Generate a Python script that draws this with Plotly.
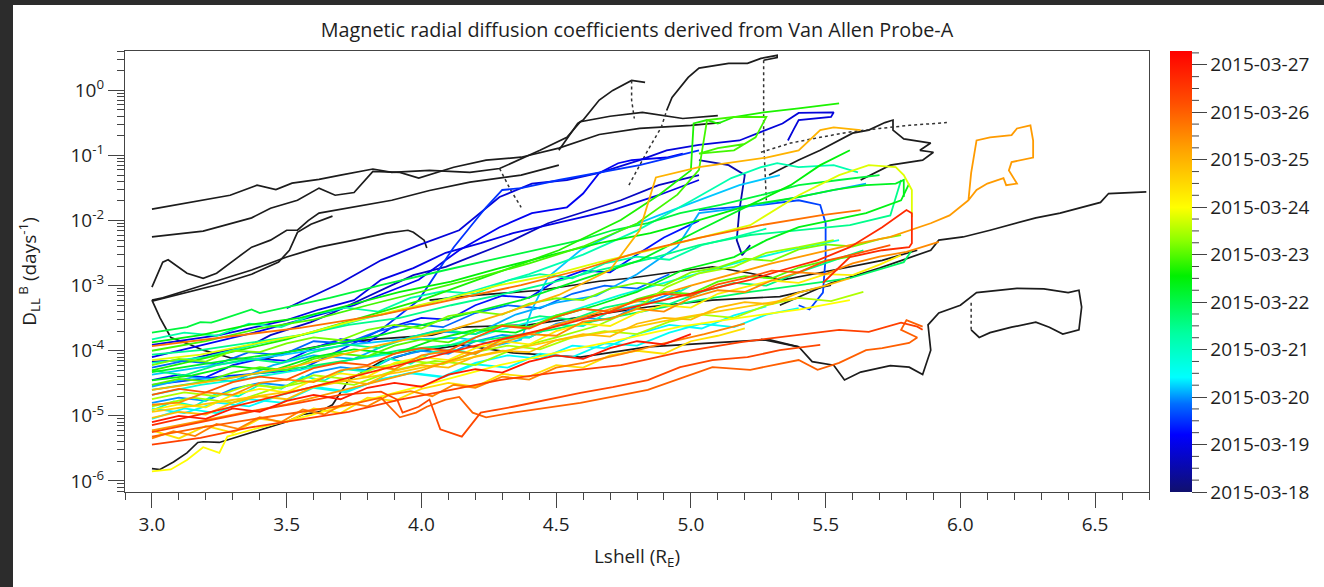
import plotly.graph_objects as go
from plotly.colors import sample_colorscale

TITLE = "Magnetic radial diffusion coefficients derived from Van Allen Probe-A"
X_TITLE = "Lshell (R<sub>E</sub>)"
Y_TITLE = "D<sub>LL</sub><sup> B</sup> (days<sup>-1</sup>)"

y_tick_vals = [1e-6, 1e-5, 1e-4, 1e-3, 1e-2, 1e-1, 1e0]
y_tick_text = ["10<sup>-6</sup>", "10<sup>-5</sup>", "10<sup>-4</sup>", "10<sup>-3</sup>",
               "10<sup>-2</sup>", "10<sup>-1</sup>", "10<sup>0</sup>"]
x_tick_vals = [3.0, 3.5, 4.0, 4.5, 5.0, 5.5, 6.0, 6.5]

# colorbar: days since 2015-03-18 00:00
cbar_tick_vals = [0, 1, 2, 3, 4, 5, 6, 7, 8, 9]
cbar_tick_text = ["2015-03-18", "2015-03-19", "2015-03-20", "2015-03-21", "2015-03-22",
                  "2015-03-23", "2015-03-24", "2015-03-25", "2015-03-26", "2015-03-27"]
T_MAX = 9.29

colorscale = [
    [0.0, "rgb(16,16,110)"], [0.13, "rgb(0,0,255)"], [0.20, "rgb(0,110,255)"],
    [0.26, "rgb(0,255,255)"], [0.36, "rgb(0,255,160)"], [0.49, "rgb(0,240,0)"],
    [0.57, "rgb(140,255,0)"], [0.645, "rgb(255,255,0)"], [0.78, "rgb(255,160,0)"],
    [0.88, "rgb(255,80,0)"], [1.0, "rgb(255,0,0)"],
]

# ---- black (flagged) passes, solid parts ----
black_lshell = [
    [3.00,3.13,3.29,3.39,3.46,3.52,3.62,3.70,3.82,3.89,4.03,4.18,4.29,4.44,4.54,4.59,4.70,4.82,4.97,5.10],
    [3.00,3.19,3.37,3.44,3.54,3.62,3.68,3.75,3.82,3.92,3.99,4.12,4.24,4.37,4.51,4.66,4.81,5.00,5.11],
    [3.00,3.04,3.06,3.13,3.19,3.24,3.32,3.37,3.44,3.50,3.54,3.58,3.62,3.75,3.89,4.03,4.18,4.37,4.51],
    [3.00,3.04,3.13,3.25,3.37,3.50,3.62,3.75,3.87,3.95,3.97,4.01,4.02],
    [3.00,3.13,3.25,3.37,3.47,3.51,3.54,3.59,3.67],
    [5.29,5.40,5.48,5.55,5.60,5.66,5.72,5.75,5.75,5.79,5.89,5.85,5.90,5.86,5.74,5.63],
    [4.51,4.58,4.60,4.66,4.71,4.76,4.78,4.83,4.78],
    [4.91,4.93,4.99,5.03,5.14,5.21,5.26,5.32,5.32,5.27],
    [3.00,3.03,3.08,3.13,3.17,3.19,3.25,3.32,3.37,3.44,3.50,3.56,3.62,3.67,3.70,3.73,3.85,3.97,4.15,4.34,4.59,4.84,5.08,5.29,5.40],
    [3.00,3.03,3.07,3.13,3.19,3.29,3.41,3.50,3.69,3.81,4.04,4.15,4.40,4.59,4.84,5.08,5.33,5.52],
    [4.03,4.22,4.44,4.66,4.77,4.90,5.08,5.22,5.34,5.47,5.59,5.71,5.84],
    [5.33,5.52,5.70,5.89,5.92,6.01,6.11,6.21,6.28,6.37,6.45,6.52,6.55,6.69],
    [5.26,5.40,5.45,5.53,5.57,5.63,5.74,5.81,5.86,5.89,5.88,5.92,6.00,6.06,6.21,6.31,6.40,6.44,6.45,6.44,6.38,6.33,6.28,6.19,6.11,6.07,6.04],
]
black_dll = [
    [1.5e-2,1.85e-2,2.45e-2,3.5e-2,3.0e-2,3.75e-2,4.3e-2,5.0e-2,6.2e-2,5.5e-2,5.9e-2,5.5e-2,6.3e-2,1.2e-1,1.9e-1,3.3e-1,4.0e-1,4.6e-1,3.7e-1,4.1e-1],
    [5.6e-3,6.9e-3,1.1e-2,1.55e-2,2.05e-2,3.15e-2,2.45e-2,2.7e-2,5.7e-2,5.5e-2,4.5e-2,6.6e-2,8.5e-2,9.4e-2,1.3e-1,2.1e-1,2.6e-1,2.9e-1,3.2e-1],
    [9.5e-4,2.3e-3,2.5e-3,1.55e-3,1.3e-3,1.55e-3,2.75e-3,3.9e-3,5.0e-3,7.1e-3,7.1e-3,1.0e-2,1.3e-2,1.6e-2,2.05e-2,2.9e-2,3.9e-2,5.0e-2,7.1e-2],
    [6.0e-4,6.5e-4,8.5e-4,1.23e-3,1.74e-3,2.75e-3,3.9e-3,5.0e-3,6.4e-3,7.1e-3,6.6e-3,5.0e-3,3.8e-3],
    [5.8e-4,8.0e-4,1.05e-3,1.5e-3,2.3e-3,3.5e-3,6.6e-3,8.8e-3,1.17e-2],
    [5.0e-2,8.5e-2,1.2e-1,1.7e-1,2.2e-1,2.45e-1,3.2e-1,3.5e-1,2.45e-1,1.8e-1,1.55e-1,1.2e-1,1.12e-1,8.5e-2,7.1e-2,4.2e-2],
    [1.2e-1,3.1e-1,3.5e-1,7.1e-1,1.0,1.28,1.42,1.33,1.42],
    [4.9e-1,7.8e-1,1.58,2.2,2.6,2.6,3.1,3.45,3.2,2.9],
    [1.55e-6,1.5e-6,1.95e-6,2.7e-6,3.9e-6,4.0e-6,3.9e-6,4.8e-6,5.6e-6,6.8e-6,8.1e-6,1.05e-5,1.15e-5,1.48e-5,2.25e-5,3.55e-5,6.8e-5,9.5e-5,1.23e-4,9.3e-5,8.0e-5,1.15e-4,1.32e-4,1.48e-4,1.15e-4],
    [6.0e-4,3.2e-4,1.6e-4,1.3e-4,1.02e-4,7.8e-5,7.2e-5,9.5e-5,1.32e-4,1.48e-4,1.74e-4,2.3e-4,2.5e-4,3.3e-4,4.7e-4,6.0e-4,6.8e-4,1.02e-3],
    [6.0e-4,7.2e-4,8.5e-4,1.17e-3,1.3e-3,1.55e-3,1.95e-3,1.55e-3,1.23e-3,1.55e-3,1.95e-3,2.45e-3,3.5e-3],
    [5.0e-4,1.1e-3,1.86e-3,3.5e-3,5.0e-3,5.6e-3,7.1e-3,9.1e-3,1.1e-2,1.3e-2,1.6e-2,1.9e-2,2.6e-2,2.75e-2],
    [1.5e-4,1.15e-4,6.8e-5,6.0e-5,3.55e-5,4.7e-5,5.9e-5,5.6e-5,4.3e-5,1.02e-4,2.5e-4,3.8e-4,5.0e-4,7.8e-4,9.1e-4,8.9e-4,7.8e-4,8.5e-4,4.7e-4,2.1e-4,1.8e-4,2.3e-4,2.75e-4,2.3e-4,1.9e-4,1.6e-4,2.1e-4],
]

# ---- black passes, sparse (dotted) parts ----
black_dot_lshell = [
    [5.26,5.37,5.48,5.59,5.70,5.81,5.95],
    [4.78,4.78,4.79],
    [4.77,4.84,4.89,4.91],
    [5.27,5.27,5.27,5.28],
    [6.04,6.04],
    [4.29,4.33,4.37],
]
black_dot_dll = [
    [1.12e-1,1.55e-1,1.9e-1,2.3e-1,2.6e-1,2.9e-1,3.2e-1],
    [1.42,7.1e-1,3.7e-1],
    [3.5e-2,1.2e-1,2.7e-1,4.9e-1],
    [2.9,1.28,1.7e-1,2.05e-2],
    [2.1e-4,6.0e-4],
    [6.3e-2,3.0e-2,1.6e-2],
]

# ---- colour-coded passes (time in days since 2015-03-18) ----
pass_times = [0.5, 0.7, 0.9, 1.0, 1.1, 1.3, 1.5, 1.6, 1.8, 2.0, 2.1, 2.2, 2.4, 2.5, 2.8, 3.0, 3.2,
              3.3, 3.5, 3.6, 3.8, 4.1, 4.3, 4.4, 4.5, 4.7, 4.9, 5.0, 5.2, 5.4, 5.5, 5.8, 6.0, 6.2,
              6.4, 6.7, 6.9, 7.0, 7.3, 7.5, 7.6, 7.8, 8.0, 8.1, 8.3, 8.4, 8.7, 8.9]
pass_lshell = [
    [5.03,5.14,5.20,5.18,5.17,5.19,5.22],
    [3.00,3.13,3.25,3.37,3.44,3.50,3.59,3.67,3.75,3.85,3.97,4.09,4.22,4.34,4.47,4.59,4.74,4.88,5.03],
    [3.50,3.70,3.85,3.99,4.14,4.29,4.41,4.54,4.66,4.81,4.91,5.03,5.18,5.34,5.40,5.53,5.52,5.40,5.38,5.36],
    [3.00,3.13,3.25,3.37,3.50,3.62,3.75,3.85,3.97,4.09,4.22,4.34,4.47,4.59,4.71,4.88,5.03],
    [3.00,3.40,3.75,3.99,4.14,4.29,4.41,4.54,4.60,4.66,4.73,4.78,4.91,4.97],
    [3.0,3.1,3.2,3.3,3.4,3.5,3.6,3.7,3.8,3.9,4.0,4.1,4.2,4.3,4.4,4.5,4.6,4.7,4.8,4.9,5.03],
    [3.00,3.25,3.55,3.70,3.85,3.99,4.12,4.18,4.24,4.30,4.37,4.51,4.66,4.81,5.03],
    [5.03,5.26,5.40,5.48,5.50,5.50,5.49,5.44,5.40],
    [3.00,3.12,3.24,3.36,3.48,3.60,3.72,3.84,3.96,4.08,4.20,4.32,4.44,4.56,4.68,4.80,4.92],
    [3.0,3.1,3.2,3.3,3.4,3.5,3.6,3.7,3.8,3.9,4.0,4.1,4.2,4.3,4.4,4.5,4.6,4.7,4.8,4.96],
    [3.00,3.15,3.30,3.45,3.60,3.75,3.90,4.05,4.20,4.35,4.50,4.65,4.80,4.95,5.03,5.15,5.27,5.40,5.52,5.65],
    [3.00,3.18,3.36,3.55,3.73,3.92,4.14,4.29,4.37,4.41,4.44,4.47,4.59,4.74,4.88,5.03,5.18,5.33],
    [3.00,3.12,3.24,3.36,3.48,3.60,3.72,3.84,3.96,4.08,4.20,4.32,4.44,4.56,4.68,4.80,4.92,5.04,5.16,5.28],
    [3.00,3.12,3.24,3.36,3.48,3.60,3.72,3.84,3.96,4.08,4.20,4.32,4.44,4.56,4.68,4.80,4.92,5.04,5.16,5.28,5.40],
    [3.00,3.18,3.36,3.55,3.73,3.92,4.11,4.29,4.51,4.74,4.96,5.18,5.40,5.55],
    [3.00,3.08,3.16,3.24,3.32,3.40,3.48,3.56,3.64,3.72,3.80,3.88,3.96,4.04,4.12,4.20,4.30,4.40,4.50,4.60,4.70,4.80,4.90,5.00],
    [3.00,3.20,3.40,3.60,3.80,4.00,4.20,4.40,4.60,4.80,5.00,5.15,5.26,5.32,5.40,5.53,5.62],
    [3.00,3.12,3.24,3.36,3.48,3.60,3.72,3.84,3.96,4.08,4.20,4.32,4.44,4.56,4.68,4.80,4.92,5.04,5.16,5.28],
    [3.00,3.18,3.36,3.55,3.73,3.92,4.11,4.29,4.48,4.66,4.85,5.03,5.22,5.40,5.59,5.74,5.78],
    [3.00,3.12,3.24,3.36,3.48,3.60,3.72,3.84,3.96,4.08,4.20,4.32,4.44,4.56,4.68,4.80,4.92,5.04,5.16,5.28,5.40,5.52,5.64],
    [3.00,3.18,3.36,3.55,3.73,3.92,4.11,4.29,4.48,4.66,4.85,5.03,5.22,5.40,5.59,5.79,5.82],
    [3.00,3.13,3.18,3.22,3.25,3.37,3.40,3.50,3.66,3.85,3.97,4.09,4.22,4.34,4.47,4.59,4.71,4.84,4.96,5.11,5.26,5.40,5.55,5.70],
    [3.00,3.25,3.55,3.85,4.11,4.37,4.59,4.81,5.03,5.22,5.40,5.53,5.65,5.76,5.79,5.79],
    [3.00,3.15,3.30,3.45,3.60,3.75,3.90,4.05,4.20,4.35,4.50,4.65,4.80,4.97,5.16,5.28,5.40,5.53,5.65,5.78,5.81],
    [3.00,3.18,3.36,3.55,3.73,3.92,4.11,4.29,4.48,4.66,4.85,5.03,5.22,5.37,5.48,5.59],
    [3.00,3.50,4.00,4.51,4.74,4.88,5.00,5.01,5.06,5.10,5.16,5.27,5.40,5.55],
    [3.00,3.20,3.40,3.60,3.80,4.00,4.20,4.40,4.60,4.80,4.95,5.03,5.06,5.16,5.28,5.24,5.16,5.03,5.10,5.20],
    [3.0,3.1,3.2,3.3,3.4,3.5,3.6,3.7,3.8,3.9,4.0,4.1,4.2,4.3,4.4,4.5,4.6,4.7,4.8,4.9,5.0,5.1,5.2,5.3,5.4,5.5,5.59],
    [3.0,3.1,3.2,3.3,3.4,3.5,3.6,3.7,3.8,3.9,4.0,4.1,4.2,4.3,4.4,4.5,4.6,4.7,4.8,4.9,5.0,5.1,5.2,5.3,5.4,5.5,5.6,5.7,5.78],
    [3.00,3.15,3.30,3.45,3.60,3.75,3.90,4.05,4.20,4.35,4.50,4.65,4.80,4.91,5.03,5.16,5.28,5.40,5.53],
    [3.00,3.12,3.24,3.36,3.48,3.60,3.72,3.84,3.96,4.08,4.20,4.32,4.44,4.56,4.68,4.80,4.92,5.04,5.16,5.28,5.40,5.52,5.64],
    [3.00,3.18,3.36,3.55,3.73,3.92,4.11,4.29,4.48,4.66,4.85,5.03,5.22,5.40,5.55,5.66,5.76,5.79,5.82,5.82],
    [3.00,3.07,3.13,3.19,3.25,3.28,3.40,3.55,3.73,3.92,4.11,4.29,4.51,4.74,4.96,5.18,5.40,5.59],
    [3.0,3.1,3.2,3.3,3.4,3.5,3.6,3.7,3.8,3.9,4.0,4.1,4.2,4.3,4.4,4.5,4.6,4.7,4.8,4.9,5.0,5.1,5.2,5.3,5.4,5.5,5.6,5.7,5.78],
    [3.0,3.1,3.2,3.3,3.4,3.5,3.6,3.7,3.8,3.9,4.0,4.1,4.2,4.3,4.4,4.5,4.6,4.7,4.8,4.9,5.0,5.1,5.2],
    [3.00,3.18,3.36,3.55,3.73,3.92,4.11,4.29,4.51,4.74,4.96,5.18,5.40],
    [3.0,3.1,3.2,3.3,3.4,3.5,3.6,3.7,3.8,3.9,4.0,4.1,4.2,4.3,4.4,4.5,4.6,4.7,4.8,4.9,5.0,5.1,5.2,5.3,5.4,5.5,5.59],
    [3.00,3.25,3.55,3.85,4.11,4.29,4.51,4.70,4.81,4.87,5.03,5.28,5.40,5.44,5.48,5.53,5.63],
    [3.00,3.50,4.00,4.50,5.00,5.30,5.59,5.74,5.89,5.96,6.03,6.04,6.06,6.11,6.19,6.21,6.26,6.27,6.27,6.19,6.18,6.21,6.17,6.16,6.10,6.06,6.03],
    [3.0,3.1,3.2,3.3,3.4,3.5,3.6,3.7,3.8,3.9,4.0,4.1,4.2,4.3,4.4,4.5,4.6,4.7,4.8,4.9,5.0,5.1,5.2,5.3,5.4,5.5,5.6,5.7,5.8,5.92],
    [3.00,3.08,3.16,3.24,3.32,3.40,3.48,3.56,3.64,3.72,3.80,3.88,3.96,4.04,4.12,4.20,4.30,4.40,4.50,4.60,4.75,4.90,5.05,5.20],
    [3.00,3.25,3.55,3.85,4.11,4.37,4.59,4.81,5.03,5.26,5.48,5.63],
    [3.00,3.18,3.36,3.55,3.73,3.85,3.92,3.98,4.02,4.09,4.14,4.19,4.24,4.34,4.59,4.84,5.08,5.22,5.34,5.40,5.47,5.55,5.65,5.71,5.81,5.84,5.78,5.80,5.86],
    [3.0,3.1,3.2,3.3,3.4,3.5,3.6,3.7,3.8,3.9,4.0,4.1,4.2,4.3,4.4,4.5,4.6,4.7,4.8,4.9,5.0,5.1,5.2,5.3,5.4,5.5,5.6,5.74],
    [3.00,3.13,3.25,3.40,3.55,3.70,3.85,3.91,3.93,3.99,4.03,4.07,4.15,4.22,4.34,4.47,4.59,4.71,4.84,4.96,5.08,5.21,5.33,5.48],
    [3.00,3.18,3.36,3.55,3.73,3.92,4.11,4.29,4.51,4.74,4.96,5.18,5.40,5.55,5.66,5.78,5.84,5.86],
    [3.00,3.18,3.36,3.55,3.73,3.92,4.11,4.29,4.48,4.66,4.85,5.03,5.22,5.34,5.47,5.59,5.71,5.80,5.82,5.82,5.81,5.71,5.59,5.54,5.49],
    [3.00,3.10,3.20,3.30,3.40,3.50,3.60,3.70,3.80,3.90,4.00,4.10,4.20,4.30,4.40,4.50,4.60,4.70,4.80,4.90,5.00],
]
pass_dll = [
    [8.5e-2,7.1e-2,5.0e-2,1.45e-2,5.0e-3,2.95e-3,4.2e-3],
    [6.8e-5,7.2e-5,9.5e-5,1.23e-4,1.74e-4,2.1e-4,2.75e-4,3.8e-4,5.4e-4,8.5e-4,1.45e-3,1.95e-3,3.2e-3,5.0e-3,9.1e-3,1.3e-2,2.05e-2,3.5e-2,5.0e-2],
    [4.5e-4,1.1e-3,2.45e-3,4.2e-3,7.1e-3,2.3e-2,3.7e-2,4.2e-2,5.4e-2,8.5e-2,1.2e-1,1.45e-1,1.7e-1,3.1e-1,4.5e-1,4.6e-1,3.9e-1,3.5e-1,2.45e-1,1.7e-1],
    [1.23e-4,1.48e-4,1.74e-4,2.25e-4,2.95e-4,4.3e-4,6.0e-4,1.23e-3,1.86e-3,3.2e-3,4.5e-3,6.4e-3,8.5e-3,1.12e-2,1.45e-2,2.45e-2,4.2e-2],
    [8.0e-5,2.0e-4,5.0e-4,1.23e-3,3.5e-3,7.9e-3,1.3e-2,1.6e-2,2.6e-2,5.4e-2,7.6e-2,8.5e-2,9.3e-2,1.07e-1],
    [3.55e-5,4.3e-5,3.9e-5,6.0e-5,7.5e-5,7.0e-5,1.1e-4,1.5e-4,1.35e-4,2.4e-4,3.2e-4,3.0e-4,5.0e-4,7.0e-4,6.5e-4,1.2e-3,1.7e-3,1.6e-3,3.0e-3,5.5e-3,1.0e-2],
    [3.0e-5,4.0e-5,5.1e-5,1.02e-4,2.1e-4,6.0e-4,3.9e-3,7.9e-3,1.6e-2,2.95e-2,3.15e-2,4.2e-2,5.5e-2,7.1e-2,1.2e-1],
    [1.45e-2,1.74e-2,2.05e-2,1.74e-2,9.1e-3,2.75e-3,7.8e-4,4.3e-4,5.0e-4],
    [5.5e-5,7.0e-5,6.2e-5,9.5e-5,8.5e-5,1.4e-4,1.3e-4,2.0e-4,2.6e-4,2.3e-4,3.8e-4,5.0e-4,4.5e-4,7.5e-4,1.0e-3,9.0e-4,1.5e-3],
    [1.58e-5,1.9e-5,1.7e-5,2.6e-5,3.2e-5,2.9e-5,4.6e-5,5.6e-5,5.0e-5,8.0e-5,1.0e-4,9.0e-5,1.4e-4,1.75e-4,1.6e-4,2.6e-4,3.2e-4,3.0e-4,4.8e-4,8.5e-4],
    [2.8e-5,3.9e-5,3.4e-5,6.0e-5,8.5e-5,7.5e-5,1.4e-4,2.0e-4,1.8e-4,3.6e-4,5.5e-4,7.0e-4,1.5e-3,4.0e-3,1.3e-2,1.5e-2,1.8e-2,2.3e-2,2.9e-2,3.7e-2],
    [4.3e-5,5.5e-5,7.2e-5,9.5e-5,1.23e-4,1.48e-4,1.58e-4,1.23e-4,1.48e-4,4.3e-4,7.8e-4,1.35e-3,3.5e-3,7.1e-3,1.2e-2,2.05e-2,3.5e-2,5.0e-2],
    [1.3e-5,1.1e-5,1.6e-5,1.4e-5,2.1e-5,2.8e-5,2.4e-5,3.5e-5,4.6e-5,4.0e-5,6.5e-5,8.5e-5,7.5e-5,1.2e-4,1.1e-4,1.8e-4,2.5e-4,2.2e-4,3.5e-4,4.8e-4],
    [9.0e-6,1.3e-5,1.1e-5,1.8e-5,1.6e-5,2.7e-5,2.3e-5,3.6e-5,4.5e-5,3.9e-5,6.2e-5,5.5e-5,9.0e-5,8.0e-5,1.3e-4,1.2e-4,1.9e-4,2.6e-4,2.3e-4,3.6e-4,4.5e-4],
    [2.1e-5,3.0e-5,3.8e-5,5.1e-5,7.2e-5,9.5e-5,1.23e-4,2.1e-4,3.55e-4,7.2e-4,1.3e-3,2.3e-3,3.8e-3,5.0e-3],
    [1.2e-5,1.66e-5,1.41e-5,2.2e-5,2.0e-5,3.0e-5,2.6e-5,4.0e-5,3.5e-5,5.2e-5,4.8e-5,7.6e-5,6.3e-5,9.5e-5,1.05e-4,8.9e-5,1.5e-4,1.6e-4,2.5e-4,2.4e-4,4.0e-4,5.0e-4,6.0e-4,1.0e-3],
    [6.5e-5,8.0e-5,1.3e-4,1.9e-4,3.2e-4,5.0e-4,8.5e-4,1.5e-3,3.0e-3,7.0e-3,2.0e-2,4.5e-2,6.6e-2,7.6e-2,6.6e-2,7.1e-2,5.5e-2],
    [1.5e-4,1.9e-4,1.7e-4,2.6e-4,2.3e-4,3.6e-4,4.6e-4,4.0e-4,6.5e-4,8.2e-4,7.5e-4,1.2e-3,1.5e-3,1.3e-3,2.2e-3,2.8e-3,2.5e-3,4.2e-3,5.5e-3,7.5e-3],
    [8.7e-5,1.02e-4,1.32e-4,1.74e-4,2.5e-4,3.2e-4,5.0e-4,7.2e-4,1.1e-3,1.74e-3,2.6e-3,4.2e-3,6.0e-3,7.1e-3,8.5e-3,1.2e-2,4.2e-2],
    [5.0e-5,4.2e-5,6.0e-5,7.5e-5,6.5e-5,9.5e-5,1.25e-4,1.1e-4,1.6e-4,2.1e-4,1.8e-4,2.6e-4,3.4e-4,3.0e-4,4.6e-4,5.8e-4,5.2e-4,8.0e-4,1.1e-3,1.0e-3,1.6e-3,2.4e-3,3.5e-3],
    [2.5e-5,3.3e-5,4.3e-5,5.5e-5,7.2e-5,1.02e-4,1.23e-4,1.58e-4,2.1e-4,2.95e-4,4.3e-4,6.0e-4,8.0e-4,1.02e-3,1.3e-3,2.3e-3,3.5e-3],
    [1.9e-4,2.3e-4,2.75e-4,2.7e-4,2.95e-4,4.3e-4,3.8e-4,4.7e-4,6.5e-4,1.02e-3,1.35e-3,1.74e-3,2.3e-3,2.95e-3,3.8e-3,5.0e-3,7.1e-3,9.1e-3,1.3e-2,1.74e-2,2.45e-2,3.5e-2,4.2e-2,5.0e-2],
    [4.7e-5,6.8e-5,1.02e-4,1.74e-4,3.2e-4,6.0e-4,1.23e-3,2.45e-3,7.1e-3,1.74e-2,2.3e-2,2.95e-2,3.5e-2,3.7e-2,4.2e-2,2.3e-2],
    [3.5e-5,4.2e-5,5.8e-5,5.0e-5,8.0e-5,1.05e-4,9.0e-5,1.5e-4,2.1e-4,1.9e-4,3.3e-4,5.0e-4,8.0e-4,1.74e-3,2.75e-3,5.0e-3,7.9e-3,1.02e-2,1.3e-2,2.05e-2,3.7e-2],
    [1.35e-4,1.74e-4,2.5e-4,3.2e-4,5.0e-4,8.0e-4,1.15e-3,1.86e-3,2.95e-3,4.5e-3,6.4e-3,1.02e-2,1.74e-2,3.5e-2,7.1e-2,1.2e-1],
    [5.0e-5,1.5e-4,6.0e-4,3.5e-3,1.02e-2,2.45e-2,5.9e-2,3.1e-1,3.5e-1,3.1e-1,3.9e-1,4.6e-1,5.3e-1,6.3e-1],
    [1.0e-4,1.4e-4,2.2e-4,3.0e-4,5.0e-4,8.0e-4,1.3e-3,2.2e-3,4.0e-3,9.0e-3,2.5e-2,6.0e-2,3.5e-1,3.9e-1,3.9e-1,1.9e-1,1.2e-1,1.07e-1,1.3e-1,1.5e-1],
    [3.0e-5,3.7e-5,3.4e-5,4.6e-5,5.6e-5,5.0e-5,7.5e-5,9.0e-5,8.2e-5,1.2e-4,1.5e-4,1.35e-4,2.0e-4,2.5e-4,2.3e-4,3.5e-4,4.4e-4,4.0e-4,6.2e-4,8.0e-4,7.5e-4,1.15e-3,1.4e-3,1.3e-3,1.9e-3,2.4e-3,2.8e-3],
    [6.0e-5,7.5e-5,6.8e-5,1.0e-4,9.5e-5,1.3e-4,1.6e-4,1.45e-4,2.1e-4,2.5e-4,2.2e-4,3.4e-4,4.0e-4,3.6e-4,5.3e-4,6.4e-4,6.0e-4,9.0e-4,1.1e-3,1.0e-3,1.6e-3,1.9e-3,2.6e-3,2.4e-3,3.6e-3,4.3e-3,4.0e-3,5.2e-3,6.0e-3],
    [1.4e-5,1.9e-5,1.6e-5,2.6e-5,3.5e-5,3.0e-5,5.0e-5,7.0e-5,6.0e-5,1.1e-4,1.6e-4,2.4e-4,4.5e-4,9.5e-4,1.55e-3,1.95e-3,3.2e-3,3.9e-3,5.0e-3],
    [1.8e-5,2.3e-5,2.0e-5,3.0e-5,2.7e-5,4.2e-5,3.7e-5,5.6e-5,7.0e-5,6.2e-5,9.5e-5,1.2e-4,1.05e-4,1.6e-4,2.0e-4,1.8e-4,2.8e-4,3.6e-4,3.2e-4,5.0e-4,6.5e-4,5.8e-4,8.0e-4],
    [7.2e-5,8.7e-5,1.23e-4,1.74e-4,2.75e-4,4.3e-4,6.5e-4,1.02e-3,1.45e-3,2.3e-3,3.5e-3,5.4e-3,8.5e-3,2.45e-2,5.0e-2,7.1e-2,6.6e-2,5.0e-2,2.95e-2,1.12e-2],
    [1.4e-6,1.5e-6,2.1e-6,3.3e-6,2.7e-6,4.8e-6,6.6e-6,9.3e-6,1.48e-5,2.35e-5,3.8e-5,6.0e-5,9.5e-5,1.48e-4,2.35e-4,3.2e-4,4.3e-4,6.0e-4],
    [1.23e-5,1.5e-5,1.35e-5,2.1e-5,2.6e-5,2.3e-5,3.6e-5,4.5e-5,4.0e-5,6.5e-5,8.0e-5,7.2e-5,1.1e-4,1.4e-4,1.25e-4,2.0e-4,2.6e-4,2.4e-4,3.8e-4,5.0e-4,4.6e-4,7.5e-4,9.5e-4,1.2e-3,1.1e-3,1.5e-3,1.45e-3,2.1e-3,2.95e-3],
    [6.0e-6,4.5e-6,7.0e-6,5.5e-6,9.0e-6,8.0e-6,1.3e-5,1.1e-5,1.9e-5,1.7e-5,2.6e-5,3.2e-5,2.8e-5,4.4e-5,4.0e-5,6.0e-5,5.5e-5,8.5e-5,1.0e-4,9.0e-5,1.4e-4,1.7e-4,2.2e-4],
    [1.15e-5,1.48e-5,1.9e-5,2.5e-5,3.55e-5,4.7e-5,6.8e-5,9.5e-5,1.48e-4,2.1e-4,3.2e-4,4.6e-4,6.5e-4],
    [9.3e-6,1.15e-5,1.05e-5,1.6e-5,2.0e-5,1.8e-5,2.8e-5,3.5e-5,3.1e-5,4.9e-5,6.0e-5,5.5e-5,8.2e-5,1.0e-4,9.5e-5,1.45e-4,1.8e-4,1.65e-4,2.6e-4,3.2e-4,3.0e-4,4.6e-4,5.6e-4,5.2e-4,7.8e-4,1.0e-3,1.3e-3],
    [2.5e-5,3.55e-5,6.0e-5,1.23e-4,2.1e-4,3.55e-4,7.2e-4,1.74e-3,7.1e-3,4.6e-2,6.6e-2,9.3e-2,1.2e-1,1.7e-1,2.45e-1,2.7e-1,2.45e-1],
    [6.0e-6,1.5e-5,5.0e-5,2.5e-4,1.0e-3,2.2e-3,4.2e-3,5.6e-3,9.1e-3,1.2e-2,2.05e-2,5.4e-2,1.7e-1,1.9e-1,2.05e-1,2.6e-1,2.9e-1,1.7e-1,9.3e-2,7.9e-2,5.9e-2,3.7e-2,3.5e-2,4.5e-2,3.7e-2,2.95e-2,2.05e-2],
    [1.48e-5,1.6e-5,2.3e-5,2.1e-5,3.2e-5,3.6e-5,3.3e-5,5.0e-5,5.8e-5,5.2e-5,8.5e-5,1.0e-4,9.0e-5,1.5e-4,1.8e-4,1.7e-4,2.8e-4,3.1e-4,4.4e-4,4.0e-4,6.5e-4,8.5e-4,8.0e-4,1.2e-3,1.6e-3,1.5e-3,2.2e-3,2.8e-3,3.3e-3,4.7e-3],
    [4.5e-6,5.8e-6,4.9e-6,7.5e-6,6.3e-6,9.5e-6,8.0e-6,1.25e-5,1.05e-5,1.6e-5,1.4e-5,2.1e-5,2.4e-5,2.0e-5,3.0e-5,2.7e-5,4.0e-5,3.6e-5,5.5e-5,6.5e-5,9.0e-5,1.3e-4,1.8e-4,2.6e-4],
    [1.18e-4,1.58e-4,2.25e-4,3.55e-4,6.0e-4,1.02e-3,1.74e-3,3.3e-3,5.4e-3,8.5e-3,1.2e-2,1.45e-2],
    [4.8e-6,6.6e-6,8.7e-6,1.15e-5,1.48e-5,1.9e-5,9.5e-6,1.12e-5,1.38e-5,1.78e-5,1.95e-5,1.12e-5,9.5e-6,1.12e-5,1.58e-5,2.5e-5,5.6e-5,5.1e-5,6.5e-5,7.2e-5,5.1e-5,6.5e-5,1.02e-4,1.1e-4,1.32e-4,1.6e-4,2.1e-4,2.95e-4,2.35e-4],
    [2.1e-5,2.6e-5,2.3e-5,3.3e-5,4.0e-5,3.6e-5,5.4e-5,6.6e-5,6.0e-5,9.0e-5,1.1e-4,1.0e-4,1.6e-4,2.4e-4,2.2e-4,3.3e-4,4.4e-4,4.0e-4,6.0e-4,7.5e-4,7.0e-4,1.05e-3,1.3e-3,1.7e-3,1.6e-3,2.4e-3,3.0e-3,4.2e-3],
    [5.6e-6,7.2e-6,9.3e-6,1.23e-5,1.6e-5,2.1e-5,2.35e-5,1.78e-5,1.12e-5,1.38e-5,1.78e-5,6.2e-6,4.8e-6,1.12e-5,1.38e-5,1.78e-5,2.25e-5,2.75e-5,3.55e-5,5.6e-5,7.2e-5,8.0e-5,1.02e-4,1.23e-4],
    [3.6e-6,4.6e-6,6.6e-6,8.7e-6,1.15e-5,1.78e-5,2.5e-5,3.55e-5,4.7e-5,6.0e-5,9.5e-5,1.35e-4,1.74e-4,2.1e-4,1.95e-4,2.7e-4,2.35e-4,2.1e-4],
    [7.2e-6,1.05e-5,1.58e-5,2.5e-5,3.8e-5,6.0e-5,9.5e-5,1.48e-4,2.25e-4,3.55e-4,5.4e-4,8.0e-4,1.23e-3,1.74e-3,2.45e-3,3.9e-3,7.9e-3,1.45e-2,1.3e-2,4.5e-3,3.9e-3,3.5e-3,2.75e-3,1.74e-3,1.1e-3],
    [8.0e-6,1.0e-5,9.0e-6,1.3e-5,1.15e-5,1.7e-5,2.1e-5,1.8e-5,2.7e-5,3.2e-5,2.8e-5,4.3e-5,5.2e-5,4.6e-5,6.8e-5,8.5e-5,7.5e-5,1.1e-4,1.4e-4,1.25e-4,1.8e-4],
]

FONT = "Open Sans"
FS = 19
TXT = "#1e1e1e"
FRAME = "#2c2c2c"

fig = go.Figure()

for xs, ys in zip(black_lshell, black_dll):
    fig.add_trace(go.Scatter(x=xs, y=ys, mode="lines", line=dict(color="#1c1c1c", width=1.7),
                             hoverinfo="skip", showlegend=False))
for xs, ys in zip(black_dot_lshell, black_dot_dll):
    fig.add_trace(go.Scatter(x=xs, y=ys, mode="lines", line=dict(color="#333333", width=1.5, dash="dot"),
                             hoverinfo="skip", showlegend=False))

line_colors = sample_colorscale(colorscale, [t / T_MAX for t in pass_times])
for xs, ys, c in zip(pass_lshell, pass_dll, line_colors):
    fig.add_trace(go.Scatter(x=xs, y=ys, mode="lines", line=dict(color=c, width=1.8),
                             hoverinfo="skip", showlegend=False))

# colour bar carrier
fig.add_trace(go.Scatter(
    x=[3.0], y=[1e-9], mode="markers", hoverinfo="skip", showlegend=False,
    marker=dict(size=1, color=[0], colorscale=colorscale, cmin=0, cmax=T_MAX, showscale=True,
                colorbar=dict(x=1.0205, xanchor="left", y=0.5, yanchor="middle", len=1,
                              lenmode="fraction", thickness=22, xpad=0, ypad=0, outlinewidth=0,
                              tickvals=cbar_tick_vals, ticktext=cbar_tick_text, ticks="outside",
                              ticklen=15, tickwidth=1, tickcolor="#444",
                              tickfont=dict(family=FONT, size=FS, color=TXT)))))

y_minor = [m * 10.0 ** e for e in range(-7, 1) for m in range(2, 10)]

fig.update_layout(
    width=1324, height=587,
    margin=dict(l=125, r=175, t=51, b=95),
    paper_bgcolor=FRAME, plot_bgcolor="white",
    title=dict(text=TITLE, x=0.5, xref="paper", xanchor="center", y=0.948, yanchor="middle",
               font=dict(family=FONT, size=19.8, color=TXT)),
    xaxis=dict(range=[2.9, 6.7], showgrid=False, zeroline=False, showline=True, mirror=True,
               linecolor="#444", linewidth=1.2, ticks="outside", ticklen=15, tickcolor="#444",
               tickvals=x_tick_vals, tickformat=".1f",
               tickfont=dict(family=FONT, size=FS, color=TXT),
               minor=dict(ticks="outside", ticklen=7, dtick=0.1, tick0=2.9, tickcolor="#444", showgrid=False),
               title=dict(text=X_TITLE, standoff=13, font=dict(family=FONT, size=FS, color=TXT))),
    yaxis=dict(type="log", range=[-6.17, 0.605], showgrid=False, zeroline=False, showline=True,
               mirror=True, linecolor="#444", linewidth=1.2, ticks="outside", ticklen=16,
               tickcolor="#444", tickvals=y_tick_vals, ticktext=y_tick_text,
               tickfont=dict(family=FONT, size=FS, color=TXT),
               minor=dict(ticks="outside", ticklen=7, tickvals=y_minor, tickcolor="#444", showgrid=False),
               title=dict(text=Y_TITLE, standoff=28, font=dict(family=FONT, size=FS, color=TXT))),
)

# white slide area (leaves a dark frame strip on the left and top)
fig.add_shape(type="rect", xref="paper", yref="paper", x0=(13 - 125) / 1024, x1=(1324 - 125) / 1024,
              y0=-95 / 441, y1=(492 - 5) / 441, line=dict(width=0), fillcolor="white", layer="below")

# colour-bar minor ticks every 6 hours
cb_right = 1.0205 + 22 / 1024
for k in range(0, 38):
    if k % 4 == 0:
        continue
    yv = (k * 0.25) / T_MAX
    if yv > 1:
        break
    fig.add_shape(type="line", xref="paper", yref="paper", x0=cb_right, x1=cb_right + 7 / 1024,
                  y0=yv, y1=yv, line=dict(color="#444", width=1))

fig.write_html("out.html", config={"displayModeBar": False},
               post_script="document.body.style.margin='0px';document.body.style.overflow='hidden';")
